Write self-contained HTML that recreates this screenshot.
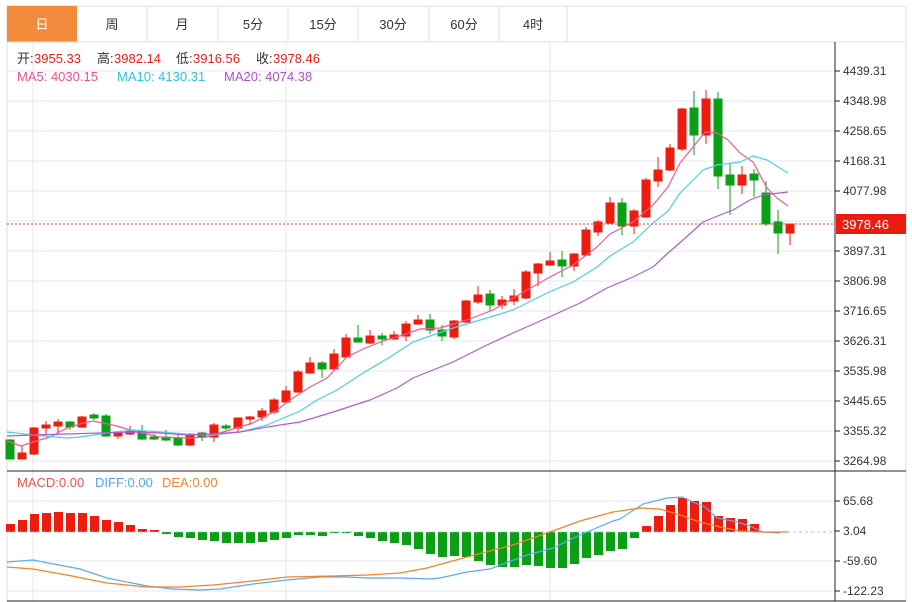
<!DOCTYPE html>
<html><head><meta charset="utf-8"><style>
html,body{margin:0;padding:0;background:#fff;}
body{width:912px;height:602px;overflow:hidden;position:relative;font-family:"Liberation Sans","Noto Sans CJK SC",sans-serif;}
svg{position:absolute;left:0;top:0;}
</style></head><body>
<svg width="912" height="602" xmlns="http://www.w3.org/2000/svg" font-family="Liberation Sans, Noto Sans CJK SC, sans-serif">
<rect x="7" y="6" width="899" height="36" fill="#fff" stroke="#dcdcdc"/>
<rect x="7" y="6" width="70" height="36" fill="#f28b3c"/>
<g stroke="#dcdcdc"><line x1="147" y1="6" x2="147" y2="42"/><line x1="218" y1="6" x2="218" y2="42"/><line x1="288" y1="6" x2="288" y2="42"/><line x1="358" y1="6" x2="358" y2="42"/><line x1="429" y1="6" x2="429" y2="42"/><line x1="499" y1="6" x2="499" y2="42"/><line x1="567" y1="6" x2="567" y2="42"/></g>
<g font-size="13" fill="#333" text-anchor="middle">
<text x="42" y="29" fill="#fff">日</text><text x="112" y="29">周</text><text x="182" y="29">月</text><text x="253" y="29">5分</text><text x="323" y="29">15分</text><text x="393" y="29">30分</text><text x="464" y="29">60分</text><text x="533" y="29">4时</text></g>
<rect x="7" y="42" width="899" height="559" fill="none" stroke="#dcdcdc"/>
<g stroke="#e3e9ef" stroke-width="1">
<line x1="7" y1="71" x2="835" y2="71"/><line x1="7" y1="101" x2="835" y2="101"/><line x1="7" y1="131" x2="835" y2="131"/><line x1="7" y1="161" x2="835" y2="161"/><line x1="7" y1="191" x2="835" y2="191"/><line x1="7" y1="221" x2="835" y2="221"/><line x1="7" y1="251" x2="835" y2="251"/><line x1="7" y1="281" x2="835" y2="281"/><line x1="7" y1="311" x2="835" y2="311"/><line x1="7" y1="341" x2="835" y2="341"/><line x1="7" y1="371" x2="835" y2="371"/><line x1="7" y1="401" x2="835" y2="401"/><line x1="7" y1="431" x2="835" y2="431"/><line x1="7" y1="461" x2="835" y2="461"/>
<line x1="7" y1="501" x2="835" y2="501"/><line x1="7" y1="561" x2="835" y2="561"/><line x1="7" y1="591" x2="835" y2="591"/>
<line x1="33" y1="42" x2="33" y2="601"/><line x1="286" y1="42" x2="286" y2="601"/><line x1="550" y1="42" x2="550" y2="601"/>
</g>
<g font-size="13">
<text x="17" y="63" fill="#333">开:</text><text x="34" y="63" fill="#ee1c0e">3955.33</text>
<text x="97" y="63" fill="#333">高:</text><text x="114" y="63" fill="#ee1c0e">3982.14</text>
<text x="176" y="63" fill="#333">低:</text><text x="193" y="63" fill="#ee1c0e">3916.56</text>
<text x="256" y="63" fill="#333">收:</text><text x="273" y="63" fill="#ee1c0e">3978.46</text>
<text x="17" y="81" fill="#ee4f8a">MA5: 4030.15</text>
<text x="117" y="81" fill="#2ec4dc">MA10: 4130.31</text>
<text x="224" y="81" fill="#b04fc8">MA20: 4074.38</text>
<text x="17" y="487" fill="#f0504a">MACD:0.00</text>
<text x="95" y="487" fill="#4ea6f0">DIFF:0.00</text>
<text x="162" y="487" fill="#f5822a">DEA:0.00</text>
</g>
<g fill="#0a9f14" stroke="#0a9f14">
<line x1="10" y1="439" x2="10" y2="459"/><rect x="6" y="440" width="8" height="19"/>
<line x1="70" y1="421" x2="70" y2="430"/><rect x="66" y="422" width="8" height="5"/>
<line x1="94" y1="413" x2="94" y2="420"/><rect x="90" y="415" width="8" height="3"/>
<line x1="106" y1="414" x2="106" y2="437"/><rect x="102" y="416" width="8" height="20"/>
<line x1="142" y1="425" x2="142" y2="440"/><rect x="138" y="431" width="8" height="8"/>
<line x1="154" y1="434" x2="154" y2="440"/><rect x="150" y="437" width="8" height="2"/>
<line x1="166" y1="430" x2="166" y2="441"/><rect x="162" y="437" width="8" height="3"/>
<line x1="178" y1="434" x2="178" y2="446"/><rect x="174" y="438" width="8" height="7"/>
<line x1="202" y1="432" x2="202" y2="441"/><rect x="198" y="433" width="8" height="4"/>
<line x1="226" y1="424" x2="226" y2="430"/><rect x="222" y="426" width="8" height="2"/>
<line x1="322" y1="361" x2="322" y2="378"/><rect x="318" y="363" width="8" height="6"/>
<line x1="358" y1="325" x2="358" y2="342"/><rect x="354" y="338" width="8" height="4"/>
<line x1="382" y1="333" x2="382" y2="345"/><rect x="378" y="336" width="8" height="3"/>
<line x1="430" y1="314" x2="430" y2="334"/><rect x="426" y="320" width="8" height="10"/>
<line x1="442" y1="325" x2="442" y2="341"/><rect x="438" y="330" width="8" height="6"/>
<line x1="490" y1="290" x2="490" y2="311"/><rect x="486" y="294" width="8" height="11"/>
<line x1="562" y1="251" x2="562" y2="277"/><rect x="558" y="260" width="8" height="6"/>
<line x1="622" y1="198" x2="622" y2="235"/><rect x="618" y="203" width="8" height="23"/>
<line x1="694" y1="91" x2="694" y2="155"/><rect x="690" y="108" width="8" height="27"/>
<line x1="718" y1="92" x2="718" y2="189"/><rect x="714" y="99" width="8" height="77"/>
<line x1="730" y1="163" x2="730" y2="215"/><rect x="726" y="175" width="8" height="10"/>
<line x1="754" y1="169" x2="754" y2="197"/><rect x="750" y="174" width="8" height="6"/>
<line x1="766" y1="181" x2="766" y2="226"/><rect x="762" y="193" width="8" height="31"/>
<line x1="778" y1="210" x2="778" y2="254"/><rect x="774" y="222" width="8" height="11"/>
</g>
<g fill="#ee1c0e" stroke="#ee1c0e">
<line x1="22" y1="445" x2="22" y2="459"/><rect x="18" y="453" width="8" height="6"/>
<line x1="34" y1="427" x2="34" y2="455"/><rect x="30" y="428" width="8" height="26"/>
<line x1="46" y1="421" x2="46" y2="434"/><rect x="42" y="425" width="8" height="3"/>
<line x1="58" y1="419" x2="58" y2="433"/><rect x="54" y="422" width="8" height="4"/>
<line x1="82" y1="416" x2="82" y2="428"/><rect x="78" y="417" width="8" height="10"/>
<line x1="118" y1="432" x2="118" y2="439"/><rect x="114" y="433" width="8" height="3"/>
<line x1="130" y1="426" x2="130" y2="435"/><rect x="126" y="431" width="8" height="3"/>
<line x1="190" y1="433" x2="190" y2="446"/><rect x="186" y="434" width="8" height="11"/>
<line x1="214" y1="423" x2="214" y2="442"/><rect x="210" y="425" width="8" height="12"/>
<line x1="238" y1="418" x2="238" y2="432"/><rect x="234" y="418" width="8" height="10"/>
<line x1="250" y1="416" x2="250" y2="425"/><rect x="246" y="417" width="8" height="2"/>
<line x1="262" y1="408" x2="262" y2="421"/><rect x="258" y="411" width="8" height="6"/>
<line x1="274" y1="398" x2="274" y2="414"/><rect x="270" y="400" width="8" height="12"/>
<line x1="286" y1="386" x2="286" y2="403"/><rect x="282" y="391" width="8" height="11"/>
<line x1="298" y1="370" x2="298" y2="393"/><rect x="294" y="372" width="8" height="20"/>
<line x1="310" y1="357" x2="310" y2="374"/><rect x="306" y="363" width="8" height="10"/>
<line x1="334" y1="349" x2="334" y2="370"/><rect x="330" y="354" width="8" height="15"/>
<line x1="346" y1="334" x2="346" y2="358"/><rect x="342" y="338" width="8" height="19"/>
<line x1="370" y1="330" x2="370" y2="344"/><rect x="366" y="336" width="8" height="7"/>
<line x1="394" y1="331" x2="394" y2="340"/><rect x="390" y="335" width="8" height="4"/>
<line x1="406" y1="321" x2="406" y2="341"/><rect x="402" y="324" width="8" height="12"/>
<line x1="418" y1="315" x2="418" y2="325"/><rect x="414" y="320" width="8" height="4"/>
<line x1="454" y1="320" x2="454" y2="339"/><rect x="450" y="321" width="8" height="16"/>
<line x1="466" y1="300" x2="466" y2="323"/><rect x="462" y="301" width="8" height="21"/>
<line x1="478" y1="286" x2="478" y2="304"/><rect x="474" y="295" width="8" height="7"/>
<line x1="502" y1="296" x2="502" y2="309"/><rect x="498" y="300" width="8" height="5"/>
<line x1="514" y1="289" x2="514" y2="305"/><rect x="510" y="296" width="8" height="5"/>
<line x1="526" y1="270" x2="526" y2="299"/><rect x="522" y="272" width="8" height="26"/>
<line x1="538" y1="263" x2="538" y2="286"/><rect x="534" y="264" width="8" height="9"/>
<line x1="550" y1="252" x2="550" y2="266"/><rect x="546" y="261" width="8" height="4"/>
<line x1="574" y1="253" x2="574" y2="271"/><rect x="570" y="254" width="8" height="12"/>
<line x1="586" y1="227" x2="586" y2="256"/><rect x="582" y="230" width="8" height="25"/>
<line x1="598" y1="220" x2="598" y2="236"/><rect x="594" y="222" width="8" height="10"/>
<line x1="610" y1="197" x2="610" y2="224"/><rect x="606" y="203" width="8" height="20"/>
<line x1="634" y1="209" x2="634" y2="234"/><rect x="630" y="211" width="8" height="15"/>
<line x1="646" y1="178" x2="646" y2="218"/><rect x="642" y="180" width="8" height="37"/>
<line x1="658" y1="157" x2="658" y2="187"/><rect x="654" y="170" width="8" height="11"/>
<line x1="670" y1="144" x2="670" y2="171"/><rect x="666" y="148" width="8" height="22"/>
<line x1="682" y1="108" x2="682" y2="151"/><rect x="678" y="109" width="8" height="40"/>
<line x1="706" y1="90" x2="706" y2="144"/><rect x="702" y="99" width="8" height="36"/>
<line x1="742" y1="166" x2="742" y2="194"/><rect x="738" y="175" width="8" height="10"/>
<line x1="790" y1="224" x2="790" y2="245"/><rect x="786" y="224" width="8" height="9"/>
</g>
<g fill="none" stroke-width="1.2" stroke-linejoin="round">
<polyline stroke="#ef5b8e" points="7,441 21,446 33,442 50,437 67,428 83,423 93,421 117,426 133,431 160,437 187,438 207,437 233,429 253,423 277,410 290,400 310,387 327,378 347,357 363,349 383,341 403,335 420,329 440,328 467,320 493,310 527,290 550,277 573,265 597,247 610,234 633,222 653,205 668,187 680,163 693,147 705,132 717,133 728,140 740,153 753,162 767,188 777,198 788,206"/>
<polyline stroke="#4fd0e2" points="7,432 33,435 67,438 80,437 107,433 133,430 160,432 187,434 213,435 240,432 267,425 300,411 317,400 337,390 363,373 390,357 413,342 453,328 487,318 513,310 547,293 573,282 597,267 610,256 633,242 653,223 668,211 680,193 703,170 717,165 740,162 753,156 767,160 788,173"/>
<polyline stroke="#b65ad0" points="7,436 33,435 67,434 100,433 133,432 160,433 187,435 213,434 240,432 267,427 300,422 330,413 370,400 397,388 413,378 453,362 487,345 513,333 547,318 580,303 607,288 633,277 653,267 668,253 683,240 703,222 720,215 733,210 750,200 763,195 788,192"/>
</g>
<line x1="7" y1="224" x2="835" y2="224" stroke="#ee3a2a" stroke-dasharray="2,2"/>
<g fill="#ee1c0e">
<rect x="6" y="524" width="9" height="8"/><rect x="18" y="520" width="9" height="12"/><rect x="30" y="514" width="9" height="18"/><rect x="42" y="513" width="9" height="19"/><rect x="54" y="512" width="9" height="20"/><rect x="66" y="513" width="9" height="19"/><rect x="78" y="513" width="9" height="19"/><rect x="90" y="516" width="9" height="16"/><rect x="102" y="520" width="9" height="12"/><rect x="114" y="522" width="9" height="10"/><rect x="126" y="525" width="9" height="7"/><rect x="138" y="529" width="9" height="3"/><rect x="150" y="530" width="9" height="2"/>
<rect x="642" y="526" width="9" height="6"/><rect x="654" y="516" width="9" height="16"/><rect x="666" y="505" width="9" height="27"/><rect x="678" y="498" width="9" height="34"/><rect x="690" y="501" width="9" height="31"/><rect x="702" y="502" width="9" height="30"/><rect x="714" y="516" width="9" height="16"/><rect x="726" y="518" width="9" height="14"/><rect x="738" y="519" width="9" height="13"/><rect x="750" y="524" width="9" height="8"/>
</g>
<g fill="#0a9f14">
<rect x="162" y="532" width="9" height="2"/><rect x="174" y="532" width="9" height="5"/><rect x="186" y="532" width="9" height="6"/><rect x="198" y="532" width="9" height="8"/><rect x="210" y="532" width="9" height="9"/><rect x="222" y="532" width="9" height="11"/><rect x="234" y="532" width="9" height="11"/><rect x="246" y="532" width="9" height="11"/><rect x="258" y="532" width="9" height="10"/><rect x="270" y="532" width="9" height="8"/><rect x="282" y="532" width="9" height="6"/><rect x="294" y="532" width="9" height="3"/><rect x="306" y="532" width="9" height="3"/><rect x="318" y="532" width="9" height="4"/><rect x="330" y="532" width="9" height="1"/><rect x="342" y="532" width="9" height="1"/><rect x="354" y="532" width="9" height="4"/><rect x="366" y="532" width="9" height="6"/>
<rect x="378" y="532" width="9" height="9"/><rect x="390" y="532" width="9" height="11"/><rect x="402" y="532" width="9" height="13"/><rect x="414" y="532" width="9" height="17"/><rect x="426" y="532" width="9" height="22"/><rect x="438" y="532" width="9" height="25"/><rect x="450" y="532" width="9" height="24"/><rect x="462" y="532" width="9" height="25"/><rect x="474" y="532" width="9" height="29"/><rect x="486" y="532" width="9" height="33"/><rect x="498" y="532" width="9" height="35"/><rect x="510" y="532" width="9" height="35"/><rect x="522" y="532" width="9" height="33"/><rect x="534" y="532" width="9" height="34"/><rect x="546" y="532" width="9" height="36"/><rect x="558" y="532" width="9" height="36"/><rect x="570" y="532" width="9" height="32"/><rect x="582" y="532" width="9" height="26"/><rect x="594" y="532" width="9" height="23"/><rect x="606" y="532" width="9" height="19"/><rect x="618" y="532" width="9" height="17"/><rect x="630" y="532" width="9" height="6"/>
</g>
<line x1="7" y1="532" x2="835" y2="532" stroke="#8fd0ee" stroke-dasharray="3,3"/>
<g fill="none" stroke-width="1.2">
<polyline stroke="#5aabf0" points="7,562 33,560 80,569 107,578 147,586 173,589 200,590 220,589 253,584 287,580 320,577 347,577 367,578 400,578 430,579 440,578 467,572 490,569 527,555 553,548 580,535 613,521 620,519 643,504 667,498 682,497 693,502 705,507 717,518 737,522 750,526 763,532 780,533"/>
<polyline stroke="#f5822a" points="7,567 33,569 67,575 107,583 147,587 180,587 213,585 253,581 287,577 333,576 367,575 400,573 427,568 467,557 513,545 550,532 580,521 613,512 640,508 660,509 680,515 700,522 720,527 740,531 760,532 788,532"/>
</g>
<line x1="7" y1="471" x2="906" y2="471" stroke="#222"/>
<line x1="7" y1="601" x2="906" y2="601" stroke="#222"/>
<line x1="835" y1="42" x2="835" y2="601" stroke="#222"/>
<g stroke="#222">
<line x1="835" y1="71" x2="840" y2="71"/><line x1="835" y1="101" x2="840" y2="101"/><line x1="835" y1="131" x2="840" y2="131"/><line x1="835" y1="161" x2="840" y2="161"/><line x1="835" y1="191" x2="840" y2="191"/><line x1="835" y1="251" x2="840" y2="251"/><line x1="835" y1="281" x2="840" y2="281"/><line x1="835" y1="311" x2="840" y2="311"/><line x1="835" y1="341" x2="840" y2="341"/><line x1="835" y1="371" x2="840" y2="371"/><line x1="835" y1="401" x2="840" y2="401"/><line x1="835" y1="431" x2="840" y2="431"/><line x1="835" y1="461" x2="840" y2="461"/>
<line x1="835" y1="501" x2="840" y2="501"/><line x1="835" y1="531" x2="840" y2="531"/><line x1="835" y1="561" x2="840" y2="561"/><line x1="835" y1="591" x2="840" y2="591"/>
</g>
<g font-size="12" fill="#333">
<text x="843" y="75">4439.31</text><text x="843" y="105">4348.98</text><text x="843" y="135">4258.65</text><text x="843" y="165">4168.31</text><text x="843" y="195">4077.98</text><text x="843" y="255">3897.31</text><text x="843" y="285">3806.98</text><text x="843" y="315">3716.65</text><text x="843" y="345">3626.31</text><text x="843" y="375">3535.98</text><text x="843" y="405">3445.65</text><text x="843" y="435">3355.32</text><text x="843" y="465">3264.98</text>
<text x="843" y="505">65.68</text><text x="843" y="535">3.04</text><text x="843" y="565">-59.60</text><text x="843" y="595">-122.23</text>
</g>
<rect x="836" y="214" width="70" height="20" fill="#ee1c0e"/>
<text x="842" y="229" font-size="13" fill="#fff">3978.46</text>
</svg>
</body></html>
